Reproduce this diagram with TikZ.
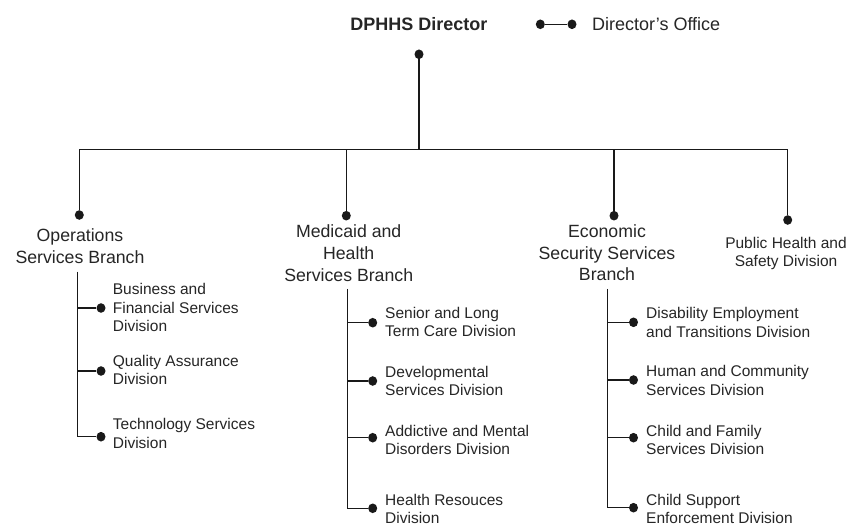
\documentclass[tikz,border=0pt]{standalone}
\usepackage{fontspec}
\setmainfont{Liberation Sans}
\usetikzlibrary{shapes.geometric}
\begin{document}
\begin{tikzpicture}[x=1pt,y=-1pt,
  dot/.style={ellipse,fill=black!90,inner sep=0pt,minimum width=9pt,minimum height=9.6pt},
  conn/.style={line width=1.2pt,draw=black!90},
  brtext/.style={align=center,inner sep=0pt,font=\fontsize{17.7}{21.7}\selectfont,text=black!85},
  divtext/.style={align=left,anchor=west,inner sep=0pt,font=\fontsize{15.5}{18.6}\selectfont,text=black!85},
]
\useasboundingbox[fill=white] (0,0) rectangle (849,529);

% top
\node[inner sep=0pt,font=\fontsize{18}{21}\selectfont\bfseries,text=black!85] (dir) at (419,24.3) {DPHHS Director};
\node[dot] (lg1) at (540.3,24.3) {};
\node[dot] (lg2) at (572,24.3) {};
\node[anchor=west,inner sep=0pt,font=\fontsize{18}{21}\selectfont,text=black!85] (lgt) at (592,24.3) {Director’s Office};
\draw[conn] (lg1) -- (lg2);

\node[dot] (top) at (419,54.3) {};
\coordinate (bus) at (419,149.7);
\node[dot] (ops) at (79.3,215) {};
\node[dot] (med) at (346.3,215.7) {};
\node[dot] (eco) at (614,215.7) {};
\node[dot] (ph) at (787.7,220) {};
\draw[conn] (top) -- (top |- bus);
\draw[conn] (ops) -- (ops |- bus) -- (ph |- bus) -- (ph);
\draw[conn] (med) -- (med |- bus);
\draw[conn] (eco) -- (eco |- bus);

% branch labels
\node[brtext] (opsl) at (80,246.3) {Operations\\Services Branch};
\node[brtext] (medl) at (348.7,253.3) {Medicaid and\\Health\\Services Branch};
\node[brtext] (ecol) at (607,252.8) {Economic\\Security Services\\Branch};
\node[divtext,align=center,anchor=center] (phl) at (786,253.5) {Public Health and\\Safety Division};

% operations subtree
\coordinate (opsv) at (77.3,271.7);
\node[dot] (o1) at (101,308) {};
\node[dot] (o2) at (101,371) {};
\node[dot] (o3) at (101,436.7) {};
\draw[conn] (opsv) |- (o3);
\draw[conn] (opsv |- o1) -- (o1);
\draw[conn] (opsv |- o2) -- (o2);
\node[divtext] (o1t) at (112.7,307.7) {Business and\\Financial Services\\Division};
\node[divtext] (o2t) at (112.7,370) {Quality Assurance\\Division};
\node[divtext] (o3t) at (112.7,433.7) {Technology Services\\Division};

% medicaid subtree
\coordinate (medv) at (347.5,289);
\node[dot] (m1) at (372.7,322.7) {};
\node[dot] (m2) at (372.7,381) {};
\node[dot] (m3) at (372.7,437.7) {};
\node[dot] (m4) at (372.7,508.3) {};
\draw[conn] (medv) |- (m4);
\draw[conn] (medv |- m1) -- (m1);
\draw[conn] (medv |- m2) -- (m2);
\draw[conn] (medv |- m3) -- (m3);
\node[divtext] (m1t) at (385,322) {Senior and Long\\Term Care Division};
\node[divtext] (m2t) at (385,381) {Developmental\\Services Division};
\node[divtext] (m3t) at (385,440) {Addictive and Mental\\Disorders Division};
\node[divtext] (m4t) at (385,508.8) {Health Resouces\\Division};

% economic subtree
\coordinate (ecov) at (607.3,289);
\node[dot] (e1) at (633.5,322.3) {};
\node[dot] (e2) at (633.5,380) {};
\node[dot] (e3) at (633.5,437.7) {};
\node[dot] (e4) at (633.5,507.7) {};
\draw[conn] (ecov) |- (e4);
\draw[conn] (ecov |- e1) -- (e1);
\draw[conn] (ecov |- e2) -- (e2);
\draw[conn] (ecov |- e3) -- (e3);
\node[divtext] (e1t) at (646,322.3) {Disability Employment\\and Transitions Division};
\node[divtext] (e2t) at (646,380.2) {Human and Community\\Services Division};
\node[divtext] (e3t) at (646,440) {Child and Family\\Services Division};
\node[divtext] (e4t) at (646,509) {Child Support\\Enforcement Division};
\end{tikzpicture}
\end{document}
